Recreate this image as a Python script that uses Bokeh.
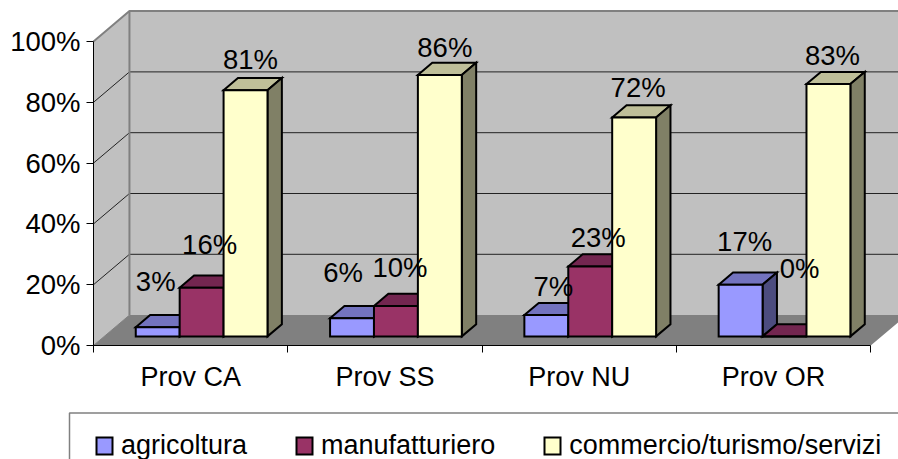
from bokeh.plotting import figure
from bokeh.models import (Range1d, FixedTicker, PrintfTickFormatter, Legend, LegendItem,
                          ColumnDataSource, LinearAxis)
from bokeh.embed import file_html
from bokeh.resources import INLINE
from bokeh.core.properties import value

FONT = "Liberation Sans"

# ---- data
categories = ["Prov CA", "Prov SS", "Prov NU", "Prov OR"]
agricoltura = [3, 6, 7, 17]
manufatturiero = [16, 10, 23, 0]
commercio = [81, 86, 72, 83]
series_names = ["agricoltura", "manufatturiero", "commercio/turismo/servizi"]
y_ticks = [0, 20, 40, 60, 80, 100]

# ---- styles
front_colors = ["#9999FF", "#993366", "#FFFFCC"]
top_colors = ["#7373BF", "#732650", "#BFBF99"]
side_colors = ["#4C4C7F", "#4D1933", "#808066"]
# pixel offset of every percentage label from the top centre of its bar
label_dx = [[-2, 8, 5], [-9, 4, 5], [7, 8, 4], [4, 15, 4]]
label_dy = [[36, 33, 21], [36, 28, 17], [19, 19, 20], [33, 58, 19]]
LABEL_BASE = 10

# ---- oblique projection, in axis units
PX_X, PX_Y = 194.3, 3.04
ORIGIN_X, ORIGIN_Y = 93, 345
DEPTH_X = 0.185
DEPTH_Y = 10.0
BAR_DEPTH_START = 0.30
BAR_DEPTH = 0.40
GAP = 0.162
BAR_W = 0.226

WIDTH, HEIGHT = 898, 459
p = figure(width=WIDTH, height=HEIGHT, output_backend="svg", toolbar_location=None,
           x_range=Range1d(-ORIGIN_X / PX_X, (WIDTH - ORIGIN_X) / PX_X),
           y_range=Range1d((ORIGIN_Y - HEIGHT) / PX_Y, ORIGIN_Y / PX_Y),
           min_border=0,
           background_fill_color="white", border_fill_color="white", outline_line_color=None,
           x_axis_type=None, y_axis_type=None)
p.grid.visible = False

n = len(categories)
# walls and floor
p.patch([0, DEPTH_X, DEPTH_X, 0], [0, DEPTH_Y, 100 + DEPTH_Y, 100], fill_color="#C0C0C0", line_color=None)
p.patch([DEPTH_X, DEPTH_X + n, DEPTH_X + n, DEPTH_X], [DEPTH_Y, DEPTH_Y, 100 + DEPTH_Y, 100 + DEPTH_Y],
        fill_color="#C0C0C0", line_color=None)
p.patch([0, n, n + DEPTH_X, DEPTH_X], [0, 0, DEPTH_Y, DEPTH_Y], fill_color="#808080", line_color=None)

# gridlines
grid_v = [v for v in y_ticks[1:-1]]
p.multi_line([[0, DEPTH_X, DEPTH_X + n] for v in grid_v],
             [[v, v + DEPTH_Y, v + DEPTH_Y] for v in grid_v], line_color="#222222", line_width=1)
# wall edges
p.multi_line([[0, DEPTH_X, DEPTH_X + n], [DEPTH_X, DEPTH_X]],
             [[100, 100 + DEPTH_Y, 100 + DEPTH_Y], [DEPTH_Y, 100 + DEPTH_Y]],
             line_color="#808080", line_width=2)
p.line([0, DEPTH_X], [0, DEPTH_Y], line_color="#808080", line_width=1)

# bars
all_series = [agricoltura, manufatturiero, commercio]
ds = BAR_DEPTH_START
dd = BAR_DEPTH_START + BAR_DEPTH
front_renderers = []
for s, vals in enumerate(all_series):
    x0 = [c + GAP + s * BAR_W for c in range(n)]
    x1 = [x + BAR_W for x in x0]
    base = ds * DEPTH_Y
    ox, ox2 = ds * DEPTH_X, dd * DEPTH_X
    oy2 = dd * DEPTH_Y
    style = dict(line_color="black", line_width=2, line_join="miter")
    p.patches([[a + ox, b + ox, b + ox2, a + ox2] for a, b in zip(x0, x1)],
              [[base + v, base + v, oy2 + v, oy2 + v] for v in vals],
              fill_color=top_colors[s], **style)
    p.patches([[b + ox, b + ox2, b + ox2, b + ox] for b in x1],
              [[base, oy2, oy2 + v, base + v] for v in vals],
              fill_color=side_colors[s], **style)
    r = p.patches([[a + ox, b + ox, b + ox, a + ox] for a, b in zip(x0, x1)],
                  [[base, base, base + v, base + v] for v in vals],
                  fill_color=front_colors[s], **style)
    front_renderers.append(r)

# data labels
for s, vals in enumerate(all_series):
    xc = [c + GAP + (s + 0.5) * BAR_W + ds * DEPTH_X for c in range(n)]
    yt = [ds * DEPTH_Y + v for v in vals]
    src = ColumnDataSource(dict(
        x=xc, y=yt, t=[f"{v}%" for v in vals],
        xo=[label_dx[c][s] for c in range(n)],
        yo=[-(label_dy[c][s] + LABEL_BASE) for c in range(n)]))
    p.text("x", "y", text="t", source=src, x_offset="xo", y_offset="yo",
           text_font=value(FONT), text_font_size="27.5px", text_color="black",
           text_align="center", text_baseline="alphabetic")

# axes
yax = LinearAxis(ticker=FixedTicker(ticks=y_ticks), formatter=PrintfTickFormatter(format="%d%%"),
                 bounds=(0, 100), axis_line_color="black", axis_line_width=1,
                 major_tick_out=7, major_tick_in=0, major_tick_line_color="black",
                 minor_tick_out=0, minor_tick_in=0, major_label_standoff=6,
                 major_label_text_font=FONT, major_label_text_font_size="27.5px",
                 major_label_text_color="black", fixed_location=0)
p.add_layout(yax, "left")
xax = LinearAxis(ticker=FixedTicker(ticks=[c + 0.5 for c in range(n)], minor_ticks=list(range(n + 1))),
                 major_label_overrides={c + 0.5: name for c, name in enumerate(categories)},
                 bounds=(0, n), axis_line_color="black", axis_line_width=1,
                 major_tick_out=0, major_tick_in=0, minor_tick_out=7, minor_tick_in=0,
                 minor_tick_line_color="black", major_label_standoff=9,
                 major_label_text_font=FONT, major_label_text_font_size="27px",
                 major_label_text_color="black", fixed_location=0)
p.add_layout(xax, "below")

# legend frame: runs past the right and bottom edges of the picture
LEG_LEFT, LEG_TOP = 69, 412.5
p.quad(left=[(LEG_LEFT - ORIGIN_X) / PX_X], right=[(WIDTH + 20 - ORIGIN_X) / PX_X],
       top=[(ORIGIN_Y - LEG_TOP) / PX_Y], bottom=[(ORIGIN_Y - HEIGHT - 20) / PX_Y],
       fill_color="white", line_color="#808080", line_width=1.5)

legend = Legend(items=[LegendItem(label=name, renderers=[r]) for name, r in zip(series_names, front_renderers)],
                orientation="horizontal", location=(69, -27), margin=0, padding=25, spacing=47,
                glyph_width=20, glyph_height=21, label_standoff=7,
                label_text_font=FONT, label_text_font_size="27px", label_text_color="black",
                border_line_color="#808080", border_line_alpha=0,
                background_fill_color="white", background_fill_alpha=0)
p.add_layout(legend, "center")

open("out.html", "w").write(file_html(p, INLINE))
